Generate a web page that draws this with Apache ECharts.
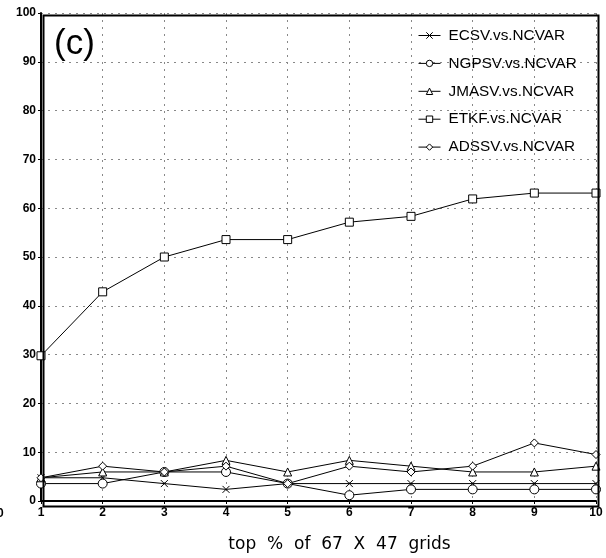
<!DOCTYPE html>
<html>
<head>
<meta charset="utf-8">
<script src="https://cdn.jsdelivr.net/npm/echarts@6/dist/echarts.min.js"></script>
<style>
html,body{margin:0;padding:0;background:#fff;}
#chart{width:606px;height:558px;}
</style>
</head>
<body>
<div id="chart"></div>
<script>
var xValues = [1, 2, 3, 4, 5, 6, 7, 8, 9, 10];
var ecsv  = [4.76, 4.76, 3.57, 2.38, 3.57, 3.57, 3.57, 3.57, 3.57, 3.57];
var ngpsv = [3.57, 3.57, 5.95, 5.95, 3.57, 1.19, 2.38, 2.38, 2.38, 2.38];
var jmasv = [4.76, 5.95, 5.95, 8.33, 5.95, 8.33, 7.14, 5.95, 5.95, 7.14];
var etkf  = [29.76, 42.86, 50.0, 53.57, 53.57, 57.14, 58.33, 61.9, 63.1, 63.1];
var adssv = [4.76, 7.14, 5.95, 7.14, 3.57, 7.14, 5.95, 7.14, 11.9, 9.52];
var seriesNames = ['ECSV.vs.NCVAR', 'NGPSV.vs.NCVAR', 'JMASV.vs.NCVAR', 'ETKF.vs.NCVAR', 'ADSSV.vs.NCVAR'];
var yTicks = [0, 10, 20, 30, 40, 50, 60, 70, 80, 90, 100];
var xTitle = 'top  %  of  67  X  47  grids';
var panelLabel = '(c)';

function pairs(v){ return xValues.map(function(x,i){ return [x, v[i]]; }); }

var crossPath = 'path://M0,0L10,10M10,0L0,10';
var symbols = [crossPath, 'circle', 'triangle', 'rect', 'diamond'];
var sizes = [7, 9, 8, 8, 8];
var allData = [ecsv, ngpsv, jmasv, etkf, adssv];

var series = allData.map(function(d, i){
  return {
    name: seriesNames[i],
    type: 'line',
    data: pairs(d),
    symbol: symbols[i],
    symbolSize: sizes[i],
    showAllSymbol: true,
    lineStyle: {color: '#000', width: 1},
    itemStyle: {color: i === 0 ? 'none' : '#fff', borderColor: '#000', borderWidth: 1},
    emphasis: {disabled: true},
    animation: false,
    clip: true
  };
});

var FONT = 'Liberation Sans, Arial, sans-serif';
var chart = echarts.init(document.getElementById('chart'), null, {renderer: 'canvas'});
chart.setOption({
  backgroundColor: '#fff',
  animation: false,
  grid: {left: 41, right: 10, top: 13, bottom: 54, containLabel: false},
  legend: {
    orient: 'vertical',
    left: 413,
    top: 23,
    itemWidth: 22,
    itemHeight: 8,
    itemGap: 12.9,
    itemStyle: {borderWidth: 1},
    lineStyle: {width: 1},
    textStyle: {fontFamily: FONT, fontSize: 15.3, lineHeight: 14, color: '#000', padding: [0,0,0,3]},
    data: seriesNames
  },
  xAxis: {
    type: 'value',
    min: 1, max: 10, interval: 1,
    axisLine: {show: true, lineStyle: {color: '#000', width: 2}},
    axisTick: {show: true, length: 3, lineStyle: {color: '#000', width: 1}},
    axisLabel: {color: '#000', fontWeight: 'bold', fontSize: 12, fontFamily: FONT, margin: 6},
    splitLine: {show: true, lineStyle: {color: '#888', type: [2, 5], width: 1}},
    name: xTitle,
    nameLocation: 'middle',
    nameGap: 35,
    nameTextStyle: {color: '#000', fontSize: 17, fontFamily: 'DejaVu Sans, sans-serif', padding: [0, 0, 0, 42]}
  },
  yAxis: {
    type: 'value',
    min: yTicks[0], max: yTicks[yTicks.length-1], interval: 10,
    axisLine: {show: true, lineStyle: {color: '#000', width: 2}},
    axisTick: {show: true, length: 3, lineStyle: {color: '#000', width: 1}},
    axisLabel: {color: '#000', fontWeight: 'bold', fontSize: 12, fontFamily: FONT, margin: 5},
    splitLine: {show: true, lineStyle: {color: '#888', type: [2, 5], width: 1}}
  },
  graphic: [
    {type: 'rect', left: 41, top: 13, shape: {width: 555, height: 491}, style: {fill: 'none', stroke: '#000', lineWidth: 2}, silent: true, z: 10},
    {type: 'text', left: 54, top: 27, style: {text: panelLabel, fontSize: 35, fontFamily: FONT, fill: '#000'}, z: 10},
    {type: 'text', left: -3, top: 508, style: {text: '0', fontSize: 12, fontWeight: 'bold', fontFamily: FONT, fill: '#000'}, z: 10}
  ],
  series: series
});
</script>
</body>
</html>
